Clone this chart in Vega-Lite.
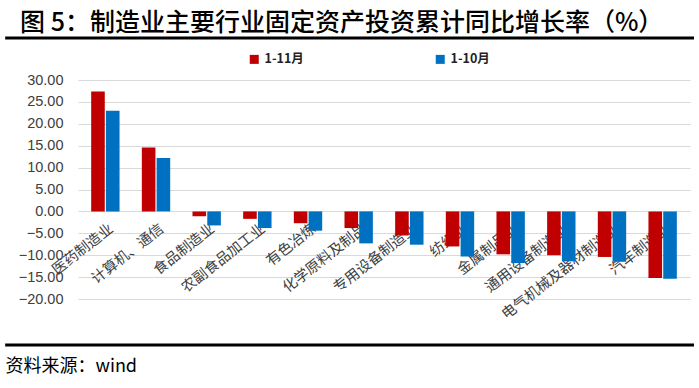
{
  "$schema": "https://vega.github.io/schema/vega-lite/v6.json",
  "width": 612,
  "height": 219,
  "autosize": {"type": "none"},
  "padding": {"left": 78, "top": 80, "right": 9, "bottom": 89},
  "background": "white",
  "title": {
    "text": "图 5：制造业主要行业固定资产投资累计同比增长率（%）",
    "anchor": "start",
    "frame": "group",
    "dx": -58,
    "dy": 10,
    "font": "Noto Sans CJK SC",
    "fontSize": 25,
    "fontWeight": 500,
    "color": "#000000",
    "offset": 10
  },
  "datasets": {
    "bars": [
      {"行业": "医药制造业", "期间": "1-11月", "值": 27.4},
      {"行业": "医药制造业", "期间": "1-10月", "值": 23.0},
      {"行业": "计算机、通信", "期间": "1-11月", "值": 14.6},
      {"行业": "计算机、通信", "期间": "1-10月", "值": 12.2},
      {"行业": "食品制造业", "期间": "1-11月", "值": -1.1},
      {"行业": "食品制造业", "期间": "1-10月", "值": -3.2},
      {"行业": "农副食品加工业", "期间": "1-11月", "值": -1.7},
      {"行业": "农副食品加工业", "期间": "1-10月", "值": -3.8},
      {"行业": "有色冶炼", "期间": "1-11月", "值": -2.7},
      {"行业": "有色冶炼", "期间": "1-10月", "值": -4.4},
      {"行业": "化学原料及制品", "期间": "1-11月", "值": -3.8},
      {"行业": "化学原料及制品", "期间": "1-10月", "值": -7.3},
      {"行业": "专用设备制造业", "期间": "1-11月", "值": -5.5},
      {"行业": "专用设备制造业", "期间": "1-10月", "值": -7.6},
      {"行业": "纺织业", "期间": "1-11月", "值": -8.0},
      {"行业": "纺织业", "期间": "1-10月", "值": -10.3},
      {"行业": "金属制品业", "期间": "1-11月", "值": -9.8},
      {"行业": "金属制品业", "期间": "1-10月", "值": -11.8},
      {"行业": "通用设备制造业", "期间": "1-11月", "值": -10.0},
      {"行业": "通用设备制造业", "期间": "1-10月", "值": -11.4},
      {"行业": "电气机械及器材制造业", "期间": "1-11月", "值": -10.4},
      {"行业": "电气机械及器材制造业", "期间": "1-10月", "值": -11.5},
      {"行业": "汽车制造业", "期间": "1-11月", "值": -15.2},
      {"行业": "汽车制造业", "期间": "1-10月", "值": -15.4}
    ],
    "deco": [{"k": 1}]
  },
  "layer": [
    {
      "data": {"name": "bars"},
      "mark": {"type": "bar"},
      "encoding": {
        "x": {
          "field": "行业",
          "type": "nominal",
          "sort": null,
          "scale": {"paddingInner": 0.44, "paddingOuter": 0.26},
          "axis": {
            "orient": "bottom",
            "offset": -87.6,
            "labelAngle": -38,
            "labelAlign": "right",
            "labelBaseline": "top",
            "labelPadding": 10,
            "labelOffset": 2,
            "labelFont": "Noto Sans CJK SC",
            "labelFontSize": 14.5,
            "labelColor": "#404040",
            "labelLimit": 400,
            "labelOverlap": false,
            "ticks": false,
            "domain": false,
            "grid": false,
            "title": "资料来源：wind",
            "titleAngle": 0,
            "titleAlign": "left",
            "titleBaseline": "middle",
            "titleX": -73,
            "titleY": 155,
            "titleFont": "Noto Sans CJK SC",
            "titleFontSize": 18,
            "titleFontWeight": "normal",
            "titleColor": "#000000"
          }
        },
        "xOffset": {
          "field": "期间",
          "type": "nominal",
          "sort": ["1-11月", "1-10月"],
          "scale": {"paddingInner": 0.08}
        },
        "y": {
          "field": "值",
          "type": "quantitative",
          "scale": {"domain": [-20, 30], "nice": false, "zero": false},
          "axis": {
            "values": [-20, -15, -10, -5, 0, 5, 10, 15, 20, 25, 30],
            "format": ".2f",
            "title": null,
            "domain": false,
            "ticks": false,
            "labelOverlap": false,
            "labelPadding": 15,
            "labelFont": "Liberation Sans",
            "labelFontSize": 14.5,
            "labelColor": "#404040",
            "gridColor": "#d9d9d9",
            "gridWidth": 1
          }
        },
        "color": {
          "field": "期间",
          "type": "nominal",
          "scale": {"domain": ["1-11月", "1-10月"], "range": ["#C00000", "#0070C0"]},
          "legend": {
            "title": null,
            "orient": "none",
            "legendX": 170,
            "legendY": -27,
            "direction": "horizontal",
            "symbolType": "square",
            "symbolSize": 81,
            "symbolStrokeWidth": 0,
            "labelFont": "Noto Sans CJK SC",
            "labelFontSize": 12.5,
            "labelFontWeight": "bold",
            "labelColor": "#222222",
            "labelOffset": 4,
            "columnPadding": 130
          }
        }
      }
    },
    {
      "data": {"name": "deco"},
      "mark": {"type": "rule", "color": "#000000", "strokeWidth": 3, "clip": false},
      "encoding": {
        "x": {"datum": -0.119, "type": "quantitative", "scale": {"domain": [0, 1], "nice": false, "zero": false}, "axis": null},
        "x2": {"datum": 1.0065},
        "y": {"datum": 39.6, "type": "quantitative", "axis": null}
      }
    },
    {
      "data": {"name": "deco"},
      "mark": {"type": "rule", "color": "#000000", "strokeWidth": 3, "clip": false},
      "encoding": {
        "x": {"datum": -0.119, "type": "quantitative", "scale": {"domain": [0, 1], "nice": false, "zero": false}, "axis": null},
        "x2": {"datum": 1.0065},
        "y": {"datum": -30.5, "type": "quantitative", "axis": null}
      }
    }
  ],
  "resolve": {"scale": {"x": "independent"}, "axis": {"x": "independent", "y": "independent"}},
  "config": {"view": {"stroke": null}}
}
